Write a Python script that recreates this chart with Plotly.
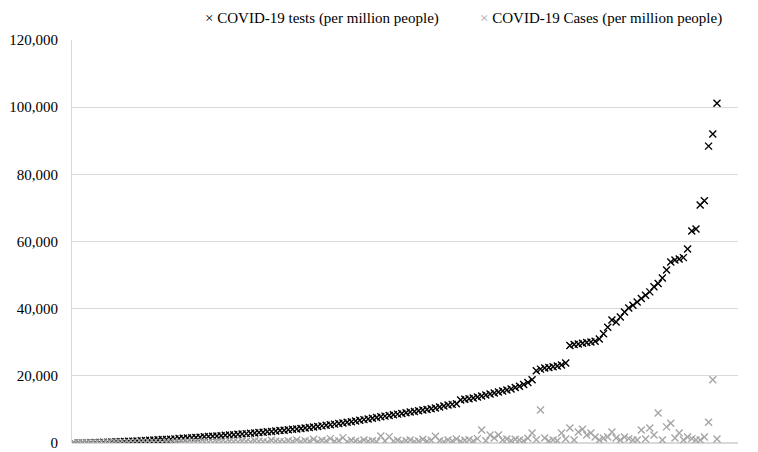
import plotly.graph_objects as go

# COVID-19 tests per million people (countries sorted by tests)
tests = [
    10, 20, 40, 60, 90, 120, 150, 200, 250, 300,
    350, 400, 450, 500, 560, 620, 680, 740, 800, 870,
    940, 1010, 1080, 1150, 1230, 1310, 1390, 1470, 1560, 1650,
    1740, 1830, 1920, 2010, 2100, 2190, 2290, 2390, 2490, 2590,
    2690, 2790, 2890, 3000, 3110, 3220, 3330, 3450, 3570, 3690,
    3810, 3940, 4070, 4200, 4340, 4480, 4620, 4780, 4940, 5100,
    5270, 5440, 5620, 5800, 5980, 6170, 6360, 6560, 6760, 6960,
    7160, 7370, 7580, 7790, 8000, 8200, 8400, 8600, 8800, 9000,
    9200, 9400, 9600, 9800, 10000, 10200, 10400, 10700, 11000, 11300,
    11500, 11700, 12800, 13000, 13200, 13400, 13700, 14000, 14300, 14600,
    14900, 15200, 15500, 15800, 16100, 16500, 16900, 17400, 18000, 18800,
    21500, 22000, 22300, 22500, 22700, 22900, 23200, 23800,
    29000, 29300, 29500, 29700, 29900, 30100, 30300,
    31000, 32500, 34500, 36600, 36000, 37500, 39000, 40200, 41000, 42000, 43000, 44000, 45000,
    46500, 47500, 49100, 51500, 53900, 54500, 54800, 55200, 57800, 63100, 63700, 70900, 72100,
    88400, 92000, 101200,
]

# COVID-19 cases per million people (same countries)
cases = [
    10, 5, 20, 15, 30, 10, 40, 25, 60, 20,
    50, 80, 30, 100, 70, 40, 120, 90, 60, 150,
    110, 80, 200, 130, 90, 250, 160, 300, 120, 220,
    180, 350, 260, 150, 400, 300, 220, 500, 350, 280,
    600, 420, 300, 700, 500, 380, 250, 800, 550, 400,
    300, 650, 450, 900, 350, 700, 500, 1100, 400, 800,
    600, 1300, 500, 700, 1600, 400, 800, 600, 300, 900,
    500, 700, 400, 2100, 600, 1900, 500, 800, 300, 700,
    900, 400, 600, 1100, 500, 800, 2000, 700, 400, 900,
    600, 1200, 500, 800, 1000, 600, 1300, 3900, 700, 2400,
    1500, 2400, 900, 1200, 700, 1100, 900, 600, 1400, 3000,
    1000, 9800, 1500, 600, 900, 700, 3000, 1200, 4500, 900,
    3300, 4100, 2400, 3000, 1800, 900, 1400, 1800, 3300, 1500,
    900, 1800, 1300, 900, 900, 3900, 1200, 4500, 2400, 8900,
    900, 4800, 5900, 1500, 3000, 900, 1800, 1300, 900, 900,
    1800, 6200, 18800, 1200,
]

series_names = ["COVID-19 tests (per million people)", "COVID-19 Cases (per million people)"]
series_colors = ["#000000", "#A6A6A6"]

idx = list(range(len(tests)))

fig = go.Figure()
for vals, name, col in zip([tests, cases], series_names, series_colors):
    fig.add_trace(go.Scatter(
        x=idx, y=vals, mode="markers", name=name, showlegend=False,
        marker=dict(symbol="x-thin-open", size=7, color=col,
                    line=dict(width=1.4, color=col)),
    ))

# legend drawn as text entries (marker glyph + label)
legend_x = [203, 478]
for lx, name, col in zip(legend_x, series_names, series_colors):
    fig.add_annotation(
        xref="paper", yref="paper", x=(lx - 72) / 666, y=1.0, yshift=22,
        xanchor="left", yanchor="middle", showarrow=False,
        text=f"<span style='color:{col}'>×</span> {name}",
        font=dict(size=15, color="#000000"),
    )

# page body adds an 8px offset, so the figure is sized 750x444
fig.update_layout(
    width=750, height=444,
    margin=dict(l=64, r=20, t=32, b=9, autoexpand=False),
    paper_bgcolor="white", plot_bgcolor="white",
    font=dict(family="Liberation Serif, Times New Roman, serif", size=15, color="#000000"),
    showlegend=False,
)
fig.update_xaxes(range=[-0.48, 158], showticklabels=False, showgrid=False,
                 zeroline=False, showline=False, ticks="", automargin=False)
fig.update_yaxes(range=[0, 120000], dtick=20000, tickformat=",", showgrid=True,
                 gridcolor="#D9D9D9", gridwidth=1, zeroline=True, zerolinecolor="#D9D9D9",
                 showline=True, linecolor="#D9D9D9", linewidth=1, ticks="",
                 ticklabelstandoff=10, automargin=False,
                 tickfont=dict(size=15, color="#000000"))

fig.write_html("out.html")
